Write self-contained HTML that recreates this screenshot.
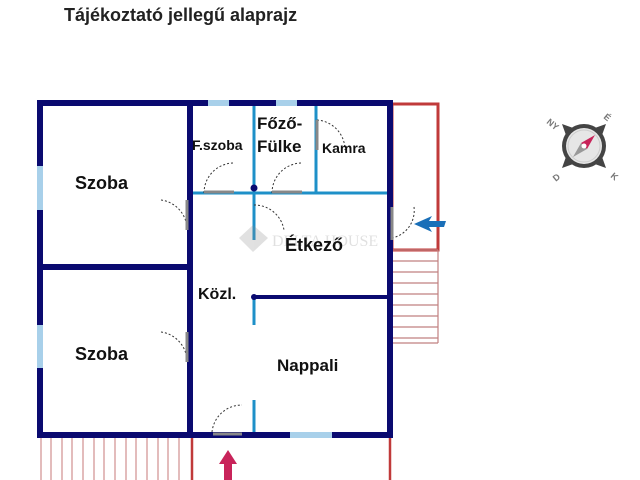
<!DOCTYPE html>
<html><head><style>
body{margin:0;background:#fff;width:640px;height:480px;overflow:hidden;font-family:"Liberation Sans",sans-serif}
svg{position:absolute;left:0;top:0}
</style></head><body>
<svg width="640" height="480" viewBox="0 0 640 480" font-family="Liberation Sans, sans-serif" font-weight="bold">
<text x="64" y="21" font-size="18" fill="#222">Tájékoztató jellegű alaprajz</text>
<rect x="392" y="104" width="46" height="146" fill="none" stroke="#c03a3a" stroke-width="3"/>
<g stroke="#c08080" stroke-width="1.2">
<line x1="392" y1="250" x2="438" y2="250"/><line x1="392" y1="261" x2="438" y2="261"/><line x1="392" y1="272" x2="438" y2="272"/><line x1="392" y1="283" x2="438" y2="283"/><line x1="392" y1="294" x2="438" y2="294"/><line x1="392" y1="305" x2="438" y2="305"/><line x1="392" y1="316" x2="438" y2="316"/><line x1="392" y1="327" x2="438" y2="327"/><line x1="392" y1="338" x2="438" y2="338"/><line x1="392" y1="343" x2="438" y2="343"/><line x1="438" y1="250" x2="438" y2="343"/>
</g>
<g stroke="#d09090" stroke-width="1.2">
<line x1="41" y1="437" x2="41" y2="480"/><line x1="51" y1="437" x2="51" y2="480"/><line x1="62" y1="437" x2="62" y2="480"/><line x1="72" y1="437" x2="72" y2="480"/><line x1="83" y1="437" x2="83" y2="480"/><line x1="94" y1="437" x2="94" y2="480"/><line x1="104" y1="437" x2="104" y2="480"/><line x1="115" y1="437" x2="115" y2="480"/><line x1="126" y1="437" x2="126" y2="480"/><line x1="136" y1="437" x2="136" y2="480"/><line x1="147" y1="437" x2="147" y2="480"/><line x1="158" y1="437" x2="158" y2="480"/><line x1="168" y1="437" x2="168" y2="480"/><line x1="179" y1="437" x2="179" y2="480"/>
</g>
<line x1="192" y1="437" x2="192" y2="480" stroke="#c03a3a" stroke-width="2.5"/>
<line x1="390" y1="437" x2="390" y2="480" stroke="#c03a3a" stroke-width="2.5"/>
<g stroke="#1e90c8" stroke-width="3">
<line x1="190" y1="193" x2="387" y2="193"/>
<line x1="254" y1="104" x2="254" y2="240"/>
<line x1="316" y1="104" x2="316" y2="193"/>
<line x1="254" y1="297" x2="254" y2="325"/>
<line x1="254" y1="400" x2="254" y2="432"/>
</g>
<circle cx="254" cy="188" r="3.5" fill="#0a0a70"/>
<line x1="254" y1="297" x2="387" y2="297" stroke="#0a0a70" stroke-width="4"/>
<circle cx="254" cy="297" r="3" fill="#0a0a70"/>
<g stroke="#0a0a70" stroke-width="6" fill="none">
<rect x="40" y="103" width="350" height="332"/>
<line x1="190" y1="103" x2="190" y2="435"/>
<line x1="40" y1="267" x2="190" y2="267"/>
</g>
<g fill="#a8d0ea">
<rect x="37" y="166" width="6" height="44"/><rect x="37" y="325" width="6" height="43"/>
<rect x="208" y="100" width="21" height="6"/><rect x="276" y="100" width="21" height="6"/>
<rect x="290" y="432" width="42" height="6"/>
</g>
<g fill="none" stroke="#333" stroke-width="1" stroke-dasharray="2,2">
<path d="M161 200 A30 30 0 0 1 187 228"/>
<path d="M161 332 A30 30 0 0 1 187 362"/>
<path d="M204 193 A30 30 0 0 1 234 163"/>
<path d="M272 193 A30 30 0 0 1 302 163"/>
<path d="M317 120 A30 30 0 0 1 345 150"/>
<path d="M254 205 A30 30 0 0 1 284 230"/>
<path d="M414 207 A28 28 0 0 1 392 238"/>
<path d="M212 432 A30 30 0 0 1 242 405"/>
</g>
<g stroke="#888" stroke-width="3">
<line x1="187" y1="200" x2="187" y2="230"/><line x1="187" y1="332" x2="187" y2="362"/>
<line x1="204" y1="192" x2="234" y2="192"/><line x1="272" y1="192" x2="302" y2="192"/>
<line x1="317" y1="120" x2="317" y2="150"/><line x1="392" y1="207" x2="392" y2="240"/>
<line x1="213" y1="434" x2="242" y2="434"/>
</g>
<path d="M414 224 L432 216 L429 221 L446 221 L444 227 L429 227 L432 232 Z" fill="#1a6fb8"/>
<path d="M228 450 L237 464 L232 464 L232 480 L224 480 L224 464 L219 464 Z" fill="#c8245a"/>
<g opacity="0.25"><path d="M253 225 L268 238 L253 252 L239 238 Z" fill="#888"/><text x="272" y="246" font-size="16" font-weight="normal" fill="#888" font-family="Liberation Serif, serif">DELTA HOUSE</text></g>
<g fill="#111">
<text x="75" y="189" font-size="18">Szoba</text>
<text x="75" y="360" font-size="18">Szoba</text>
<text x="192" y="150" font-size="14">F.szoba</text>
<text x="257" y="129" font-size="17">Főző-</text>
<text x="257" y="152" font-size="17">Fülke</text>
<text x="322" y="153" font-size="14">Kamra</text>
<text x="285" y="251" font-size="18">Étkező</text>
<text x="198" y="299" font-size="16">Közl.</text>
<text x="277" y="371" font-size="17">Nappali</text>
</g>
<g transform="translate(584,146)">
<g fill="#444">
<path d="M-22 -22 L-8 -17 L-17 -8 Z"/><path d="M22 -22 L17 -8 L8 -17 Z"/>
<path d="M-22 22 L-17 8 L-8 17 Z"/><path d="M22 22 L8 17 L17 8 Z"/>
</g>
<circle r="22" fill="#444"/><circle r="18" fill="#e6e6e6"/><circle r="16" fill="none" stroke="#ccc" stroke-width="1"/>
<path d="M11 -11 L3 3 L-3 -3 Z" fill="#c8245a"/><path d="M-11 11 L3 3 L-3 -3 Z" fill="#999"/>
<circle r="2.5" fill="#fff"/>
<text x="-37" y="-20" font-size="9" fill="#777" transform="rotate(40 -33 -23)">NY</text>
<text x="20" y="-25" font-size="9" fill="#777" transform="rotate(40 24 -28)">É</text>
<text x="-31" y="34" font-size="9" fill="#777" transform="rotate(-40 -27 31)">D</text>
<text x="27" y="34" font-size="9" fill="#777" transform="rotate(40 31 31)">K</text>
</g>
</svg>
</body></html>
